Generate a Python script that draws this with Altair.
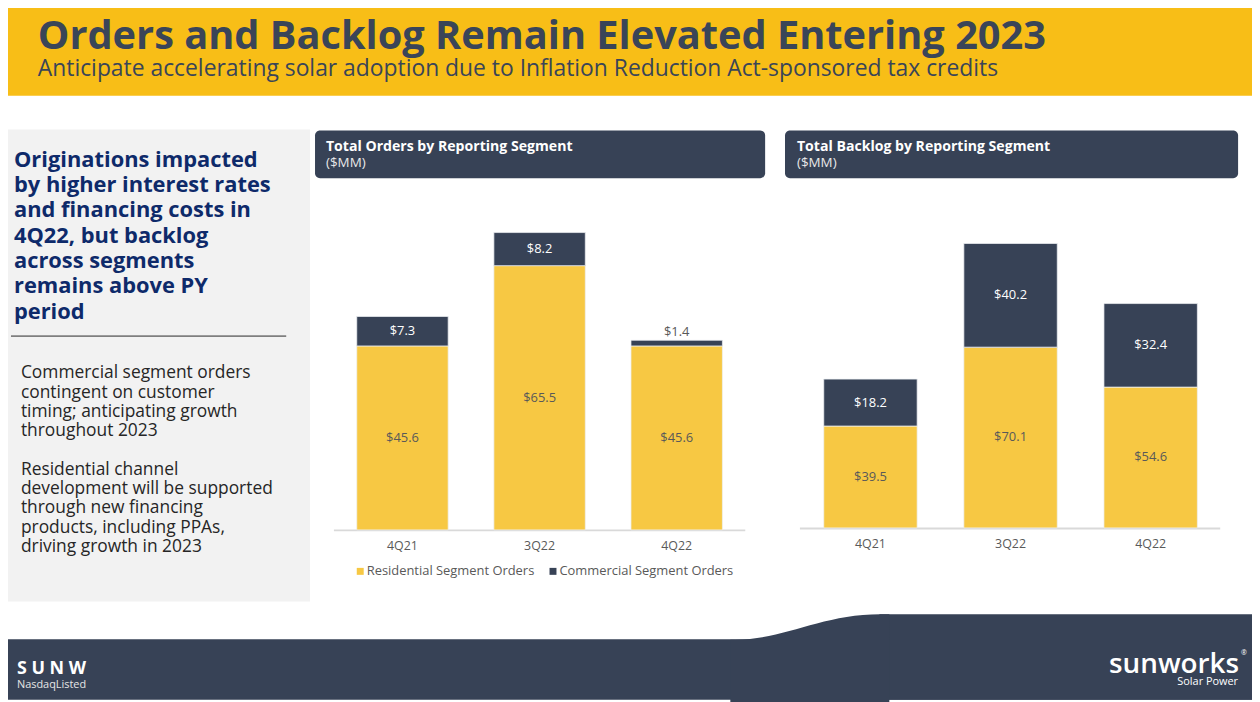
import altair as alt
import pandas as pd

# ---------------- data ----------------
quarters = ["4Q21", "3Q22", "4Q22"]
segments = ["Residential Segment Orders", "Commercial Segment Orders"]
orders_residential = [45.6, 65.5, 45.6]
orders_commercial = [7.3, 8.2, 1.4]
backlog_residential = [39.5, 70.1, 54.6]
backlog_commercial = [18.2, 40.2, 32.4]

title_text = "Orders and Backlog Remain Elevated Entering 2023"
subtitle_text = "Anticipate accelerating solar adoption due to Inflation Reduction Act-sponsored tax credits"
headline_lines = ["Originations impacted", "by higher interest rates", "and financing costs in",
                  "4Q22, but backlog", "across segments", "remains above PY", "period"]
para1_lines = ["Commercial segment orders", "contingent on customer",
               "timing; anticipating growth", "throughout 2023"]
para2_lines = ["Residential channel", "development will be supported", "through new financing",
               "products, including PPAs,", "driving growth in 2023"]
orders_header = "Total Orders by Reporting Segment"
backlog_header = "Total Backlog by Reporting Segment"
unit_text = "($MM)"

# ---------------- style ----------------
FONT = "Open Sans"
BANNER = "#F8BE17"
SLATE = "#374256"
BAR_YELLOW = "#F7C843"
TITLE_COLOR = "#3A4558"
NAVY = "#0E2A6A"
LABEL_GRAY = "#595959"

OFF = 8  # page margin


def X(v):
    return v - OFF


def Y(v):
    return v - OFF


one = pd.DataFrame({"k": [0]})


def rect(x0, x1, y0, y1, color, **kw):
    return alt.Chart(one).mark_rect(color=color, **kw).encode(
        x=alt.value(X(x0)), x2=alt.value(X(x1)), y=alt.value(Y(y0)), y2=alt.value(Y(y1)))


def text(t, x, y, size, color, weight="normal", align="left", baseline="alphabetic", font=FONT, **kw):
    return alt.Chart(one).mark_text(text=t, fontSize=size, color=color, fontWeight=weight,
                                    align=align, baseline=baseline, font=font, **kw).encode(
        x=alt.value(X(x)), y=alt.value(Y(y)))


def hrule(x0, x1, y, color, w):
    return alt.Chart(one).mark_rule(color=color, strokeWidth=w).encode(
        x=alt.value(X(x0)), x2=alt.value(X(x1)), y=alt.value(Y(y)))


legend = alt.Legend(orient="none", legendX=X(356), legendY=Y(566), direction="horizontal", title=None,
                    symbolType="square", symbolSize=49, symbolStrokeWidth=0, labelFontSize=13,
                    labelColor=LABEL_GRAY, labelFont=FONT, columnPadding=12, padding=0, labelOffset=0,
                    labelLimit=400)


def bar_group(res, com, x0, x1, base, ppu, top_val, label_y):
    rows = []
    for q, r, c in zip(quarters, res, com):
        rows.append({"quarter": q, "segment": segments[0], "value": r, "y0": 0.0, "y1": r})
        rows.append({"quarter": q, "segment": segments[1], "value": c, "y0": r, "y1": r + c})
    df = pd.DataFrame(rows)
    df["mid"] = (df["y0"] + df["y1"]) / 2
    df["label"] = df["value"].map(lambda v: f"${v:.1f}")
    xs = alt.Scale(type="band", domain=quarters, range=[X(x0), X(x1)], paddingInner=1 / 3, paddingOuter=0)
    ys = alt.Scale(type="linear", domain=[0, top_val], range=[Y(base), Y(base - ppu * top_val)], nice=False)
    xenc = alt.X("quarter:N", scale=xs, axis=None)
    c = alt.Chart(df)
    bars = c.mark_bar(stroke="#EEF0F3", strokeWidth=0.75).encode(
        x=xenc, y=alt.Y("y0:Q", scale=ys, axis=None), y2="y1:Q",
        color=alt.Color("segment:N", scale=alt.Scale(domain=segments, range=[BAR_YELLOW, SLATE]), legend=legend))
    inside = c.transform_filter("datum.value >= 3").mark_text(fontSize=13, font=FONT, baseline="middle").encode(
        x=xenc, y=alt.Y("mid:Q", scale=ys, axis=None), text="label:N",
        color=alt.condition(f"datum.segment == '{segments[1]}'", alt.value("#FFFFFF"), alt.value(LABEL_GRAY)))
    outside = c.transform_filter("datum.value < 3").mark_text(fontSize=13, font=FONT, baseline="bottom",
                                                               dy=-1, color=LABEL_GRAY).encode(
        x=xenc, y=alt.Y("y1:Q", scale=ys, axis=None), text="label:N")
    cats = alt.Chart(pd.DataFrame({"quarter": quarters})).mark_text(
        fontSize=12.5, font=FONT, color=LABEL_GRAY, baseline="middle").encode(
        x=xenc, y=alt.value(Y(label_y)), text="quarter:N")
    return alt.layer(bars, inside, outside, cats)


orders = bar_group(orders_residential, orders_commercial, 359, 727, 531, 4.06, 80, 547)
backlog = bar_group(backlog_residential, backlog_commercial, 829, 1205, 529, 2.595, 120, 545)

# footer curve as a custom symbol path (unit box -1..1)
cx, cy, half = 815, 680, 80


def u(x):
    return round((x - cx) / half, 4)


def v(y):
    return round((y - cy) / half, 4)


curve_path = (f"M -1 {v(641.5)} L {u(740)} {v(641.5)} C {u(790)} {v(641.5)} {u(826)} {v(616)} {u(886)} {v(616)} "
              f"L 1 {v(616)} L 1 1 L -1 1 Z")
curve = alt.Chart(one).mark_point(shape=curve_path, size=(2 * half) ** 2, filled=True, color=SLATE,
                                   opacity=1, strokeWidth=0).encode(x=alt.value(X(cx)), y=alt.value(Y(cy)))

layers = [
    rect(0, 1260, 0, 94, BANNER),
    text(title_text, 38, 47, 40, TITLE_COLOR, weight="bold"),
    text(subtitle_text, 38, 74, 23, TITLE_COLOR),
    rect(0, 312, 128, 603, "#F2F2F2"),
    text(headline_lines, 14, 165.5, 22, NAVY, weight="bold", lineHeight=25.5),
    hrule(11, 288, 336, "#7F7F7F", 2),
    text(para1_lines, 21, 378.5, 17.5, "#262626", lineHeight=19.4),
    text(para2_lines, 21, 475.5, 17.5, "#262626", lineHeight=19.4),
    rect(317, 770, 129, 177, SLATE, cornerRadius=5),
    rect(790, 1246, 129, 177, SLATE, cornerRadius=5),
    text(orders_header, 328, 150, 14.2, "#FFFFFF", weight="bold"),
    text(unit_text, 328, 166, 13.5, "#E8E8E8"),
    text(backlog_header, 802, 150, 14.2, "#FFFFFF", weight="bold"),
    text(unit_text, 802, 166, 13.5, "#E8E8E8"),
    hrule(336, 750, 531.5, "#D9D9D9", 2),
    hrule(805, 1228, 529.5, "#D9D9D9", 2),
    orders,
    backlog,
    rect(0, 1260, 641, 702, SLATE),
    rect(885, 1260, 616, 702, SLATE),
    curve,
    text("S U N W", 17, 676, 18, "#FFFFFF", weight="bold"),
    text("NasdaqListed", 17, 690, 11, "#E6E6E6"),
    text("sunworks", 1247, 675, 28, "#FFFFFF", weight=600, align="right"),
    text("®", 1249, 657, 7, "#FFFFFF", align="left"),
    text("Solar Power", 1246, 687, 11, "#FFFFFF", align="right"),
]

chart = alt.layer(*layers).resolve_scale(x="independent", y="independent").properties(
    width=1252, height=694, padding=0, autosize=alt.AutoSizeParams(type="none")
).configure_view(stroke=None)

chart.save("out.html", embed_options={"renderer": "svg", "actions": False})
